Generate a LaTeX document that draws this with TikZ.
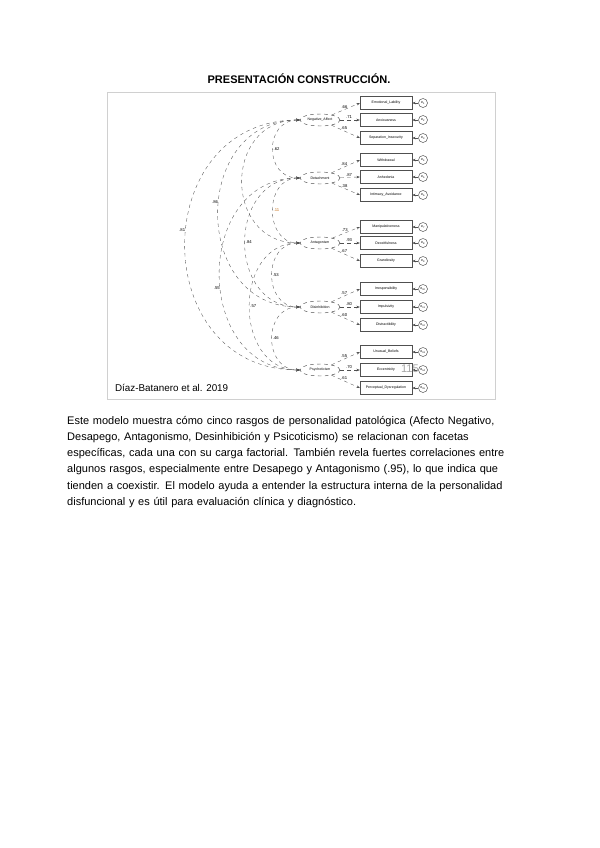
\documentclass[tikz,border=0pt]{standalone}
\usepackage{fontspec}
\setmainfont{Liberation Sans}
\usepackage{xcolor}
\definecolor{FrameGray}{HTML}{D0D0D0}
\definecolor{PathGray}{HTML}{505050}
\definecolor{LabelOrange}{HTML}{C8731E}
\definecolor{PageNumGray}{HTML}{A8A8A8}
\usepackage{tikz}
\usetikzlibrary{arrows.meta,positioning,shapes.geometric}
\newcommand{\semtiny}{\fontsize{3}{3.5}\selectfont}
\newcommand{\semlabel}{\fontsize{3.6}{4}\selectfont}
\tikzset{
  traitnode/.style={
    draw=PathGray,
    dashed,
    ellipse,
    minimum width=12mm,
    minimum height=3.6mm,
    inner sep=0pt,
    font=\semtiny
  },
  facetbox/.style={
    draw=PathGray,
    line width=0.3pt,
    minimum width=15.6mm,
    minimum height=3.9mm,
    inner sep=0pt,
    font=\semtiny
  },
  errnode/.style={
    draw=PathGray,
    circle,
    minimum size=2.7mm,
    inner sep=0pt,
    font=\semtiny
  },
  loadline/.style={
    draw=PathGray,
    dashed,
    -{Stealth[length=1mm]},
    line width=0.3pt
  },
  errline/.style={
    draw=PathGray,
    -{Stealth[length=1mm]},
    line width=0.3pt
  },
  corrline/.style={
    draw=PathGray,
    dashed,
    {Stealth[length=1.1mm]}-{Stealth[length=1.1mm]},
    line width=0.3pt
  },
  semnum/.style={
    font=\semlabel,
    inner sep=0.5pt
  }
}

\begin{document}
\begin{tikzpicture}[x=0.3mm,y=-0.3mm]
  \useasboundingbox (0,0) rectangle (600,848);
  \node[font=\fontsize{9.4}{11}\selectfont\bfseries] (title) at (299,79) {PRESENTACIÓN CONSTRUCCIÓN.};
  \draw[FrameGray,fill=white] (107,92) rectangle (495,399);
  % rasgos latentes
  \node[traitnode] (na) at (320,120) {Negative\_Affect};
  \node[traitnode] (det) at (320,178) {Detachment};
  \node[traitnode] (ant) at (320,243) {Antagonism};
  \node[traitnode] (dis) at (320,307) {Disinhibition};
  \node[traitnode] (psy) at (320,370) {Psychoticism};
  % facetas
  \foreach \trait/\y/\txt/\load/\num in {
      na/103/Emotional\_Lability/.66/1, na/120/Anxiousness/.71/2, na/138/Separation\_Insecurity/.65/3,
      det/160/Withdrawal/.84/4, det/177/Anhedonia/.87/5, det/195/Intimacy\_Avoidance/.38/6,
      ant/227/Manipulativeness/.73/7, ant/243/Deceitfulness/.93/8, ant/261/Grandiosity/.67/9,
      dis/289/Irresponsibility/.57/10, dis/307/Impulsivity/.80/11, dis/325/Distractibility/.60/12,
      psy/352/Unusual\_Beliefs/.55/13, psy/370/Eccentricity/.70/14, psy/388/Perceptual\_Dysregulation/.61/15}{
    \node[facetbox] (f\num) at (386,\y) {\txt};
    \node[errnode] (e\num) at (423,\y) {e\textsubscript{\num}};
    \draw[errline] (e\num) -- (f\num);
    \draw[loadline] (\trait) -- node[semnum,pos=0.45,above=0.4pt] {\load} (f\num.west);
  }
  % correlaciones
  \draw[corrline] (na.west) .. controls (264,120) and (264,178) .. node[semnum,right] {.62} (det.west);
  \draw[corrline] (det.west) .. controls (264,178) and (264,243) .. node[semnum,right,text=LabelOrange] {.11} (ant.west);
  \draw[corrline] (ant.west) .. controls (263,243) and (263,307) .. node[semnum,right] {.53} (dis.west);
  \draw[corrline] (dis.west) .. controls (263,307) and (263,370) .. node[semnum,right] {.46} (psy.west);
  \draw[corrline] (na.west) .. controls (223,120) and (223,243) .. (ant.west);
  \draw[corrline] (det.west) .. controls (227,178) and (227,307) .. node[semnum,right] {.84} (dis.west);
  \draw[corrline] (ant.west) .. controls (233,243) and (233,370) .. node[semnum,right] {.57} (psy.west);
  \draw[corrline] (na.west) .. controls (191,120) and (191,307) .. node[semnum,left,pos=0.46] {.86} (dis.west);
  \draw[corrline] (det.west) .. controls (193,178) and (193,370) .. node[semnum,left,pos=0.55] {.55} (psy.west);
  \draw[corrline] (na.west) .. controls (147,120) and (147,370) .. node[semnum,left,pos=0.46] {.81} (psy.west);
  \node[anchor=west,font=\fontsize{8.4}{10}\selectfont] (source) at (111,388) {Díaz-Batanero et al. 2019};
  \node[text=PageNumGray,font=\fontsize{9.5}{11}\selectfont] (pagenum) at (410,369) {115};
  % texto
  \node[anchor=north west,align=left,inner sep=0pt,text width=150mm,font=\fontsize{9.4}{13.8}\selectfont] (body) at (67,416) {Este modelo muestra cómo cinco rasgos de personalidad patológica (Afecto Negativo,\\
    Desapego, Antagonismo, Desinhibición y Psicoticismo) se relacionan con facetas\\
    específicas, cada una con su carga factorial. También revela fuertes correlaciones entre\\
    algunos rasgos, especialmente entre Desapego y Antagonismo (.95), lo que indica que\\
    tienden a coexistir. El modelo ayuda a entender la estructura interna de la personalidad\\
    disfuncional y es útil para evaluación clínica y diagnóstico.};
\end{tikzpicture}
\end{document}
